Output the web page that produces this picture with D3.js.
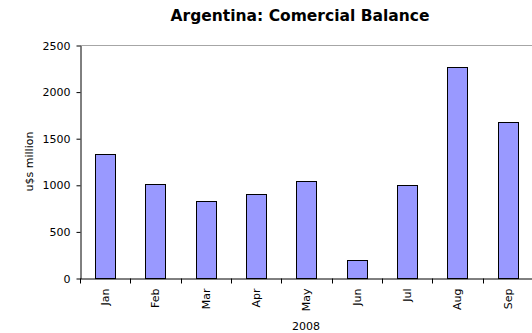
<!DOCTYPE html>
<html>
<head>
<meta charset="utf-8">
<script src="https://cdn.jsdelivr.net/npm/d3@7"></script>
<style>
  body { margin: 0; background: #fff; }
  text { font-family: "DejaVu Sans", Verdana, sans-serif; }
</style>
</head>
<body>
<svg id="balanceChart" width="532" height="333"></svg>
<script>
var months = ["Jan", "Feb", "Mar", "Apr", "May", "Jun", "Jul", "Aug", "Sep"];
var balance = [1335, 1005, 822, 900, 1043, 193, 993, 2268, 1678];
var yTicks = [0, 500, 1000, 1500, 2000, 2500];
var title = "Argentina: Comercial Balance";
var yLabel = "u$s million";
var xLabel = "2008";

var margin = { top: 45, right: -1, bottom: 55, left: 80 };
var width = 532;
var height = 333;

var data = months.map(function (m, i) { return { name: m, value: balance[i] }; });

var x = d3.scaleBand()
    .domain(months)
    .range([margin.left, width - margin.right])
    .paddingInner(0.6)
    .paddingOuter(0.3);

var y = d3.scaleLinear()
    .domain([0, 2500])
    .range([height - margin.bottom, margin.top]);

var svg = d3.select("#balanceChart");

// top border of plot area
svg.append("line")
    .attr("x1", margin.left).attr("x2", width)
    .attr("y1", y(2500) + 0.5).attr("y2", y(2500) + 0.5)
    .attr("stroke", "#a6a6a6");

svg.append("g")
    .attr("fill", "#9999ff")
    .attr("stroke", "#000")
    .attr("stroke-width", 1)
    .selectAll("rect")
    .data(data)
    .join("rect")
    .attr("x", function (d) { return Math.round(x(d.name)) + 0.5; })
    .attr("y", function (d) { return Math.round(y(d.value)) + 0.5; })
    .attr("width", function (d) { return Math.round(x.bandwidth()); })
    .attr("height", function (d) { return Math.round(y(0)) - Math.round(y(d.value)); });

// y axis
svg.append("g")
    .attr("transform", "translate(" + (margin.left + 0.5) + ",0.5)")
    .call(d3.axisLeft(y).tickValues(yTicks).tickFormat(d3.format("d")).tickSize(4).tickPadding(6).tickSizeOuter(0))
    .call(function (g) { g.selectAll("line, path").attr("stroke", "#000"); })
    .selectAll("text").attr("font-size", "11px").attr("fill", "#000");

// x axis: labels at centers, ticks between categories
var xAxis = svg.append("g")
    .attr("transform", "translate(0," + (Math.round(y(0)) + 0.5) + ")")
    .call(d3.axisBottom(x).tickSize(0).tickSizeOuter(0))
    .call(function (g) { g.select(".domain").attr("stroke", "#000"); });
xAxis.selectAll("text")
    .attr("font-size", "11px")
    .attr("fill", "#000")
    .attr("transform", "rotate(-90)")
    .attr("text-anchor", "end")
    .attr("x", -10)
    .attr("y", 0)
    .attr("dy", "0.35em");

var step = x.step();
var bounds = months.map(function (m) { return x(m) - step * x.paddingOuter(); });
bounds.push(x(months[months.length - 1]) + x.bandwidth() + step * x.paddingOuter());
xAxis.selectAll(".bound")
    .data(bounds)
    .join("line")
    .attr("class", "bound")
    .attr("x1", function (d) { return Math.round(d) + 0.5; })
    .attr("x2", function (d) { return Math.round(d) + 0.5; })
    .attr("y1", 0).attr("y2", 5)
    .attr("stroke", "#000");

svg.append("text")
    .attr("x", 300)
    .attr("y", 21)
    .attr("text-anchor", "middle")
    .attr("font-size", "15.5px")
    .attr("font-weight", "bold")
    .text(title);

svg.append("text")
    .attr("transform", "translate(33," + ((y(0) + y(2500)) / 2) + ") rotate(-90)")
    .attr("text-anchor", "middle")
    .attr("font-size", "11px")
    .text(yLabel);

svg.append("text")
    .attr("x", 306)
    .attr("y", 330)
    .attr("text-anchor", "middle")
    .attr("font-size", "11px")
    .text(xLabel);
</script>
</body>
</html>
